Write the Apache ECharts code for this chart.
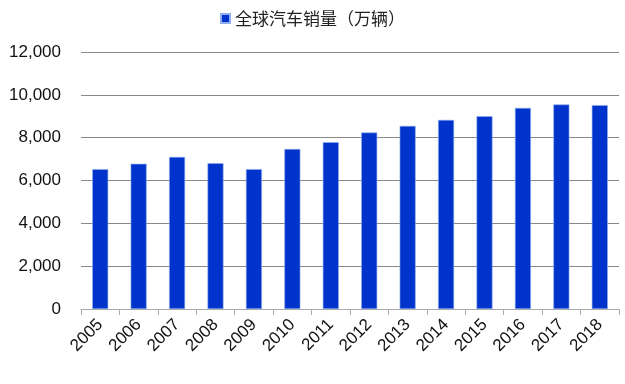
<!DOCTYPE html>
<html><head><meta charset="utf-8">
<script src="https://cdn.jsdelivr.net/npm/echarts@6/dist/echarts.min.js"></script>
<style>html,body{margin:0;padding:0;background:#fff}#c{width:625px;height:384px}</style>
</head><body><div id="c"></div>
<script>
const categories = ['2005','2006','2007','2008','2009','2010','2011','2012','2013','2014','2015','2016','2017','2018'];
const sales = [6530, 6780, 7100, 6810, 6530, 7470, 7790, 8240, 8550, 8830, 9000, 9390, 9550, 9520];
const seriesName = '全球汽车销量（万辆）';
const yTicks = {min: 0, max: 12000, interval: 2000};

const chart = echarts.init(document.getElementById('c'));
chart.setOption({
  animation: false,
  textStyle: {fontFamily: '"Liberation Sans", Arial, "Noto Sans CJK SC", sans-serif'},
  legend: {
    top: 5, left: 'center', itemWidth: 9, itemHeight: 9, itemGap: 5,
    icon: 'rect',
    textStyle: {fontSize: 17, color: '#222', fontFamily: '"Noto Sans CJK SC", sans-serif'},
    data: [seriesName]
  },
  grid: {left: 81, right: 6, top: 52, bottom: 75, containLabel: false},
  xAxis: {
    type: 'category', data: categories,
    axisLine: {lineStyle: {color: '#aaa', width: 1}},
    axisTick: {show: true, length: 6, lineStyle: {color: '#aaa'}},
    axisLabel: {rotate: 45, fontSize: 17, color: '#111', margin: 13, interval: 0}
  },
  yAxis: {
    type: 'value', min: yTicks.min, max: yTicks.max, interval: yTicks.interval,
    axisLine: {show: false}, axisTick: {show: false},
    splitLine: {lineStyle: {color: '#888', width: 1}},
    axisLabel: {fontSize: 17, color: '#111', margin: 20,
      formatter: v => v.toLocaleString('en-US')}
  },
  series: [{
    name: seriesName, type: 'bar', data: sales, barWidth: 16,
    itemStyle: {color: '#0033cc', borderColor: '#8fb0ec', borderWidth: 0.6}
  }]
});
</script></body></html>
